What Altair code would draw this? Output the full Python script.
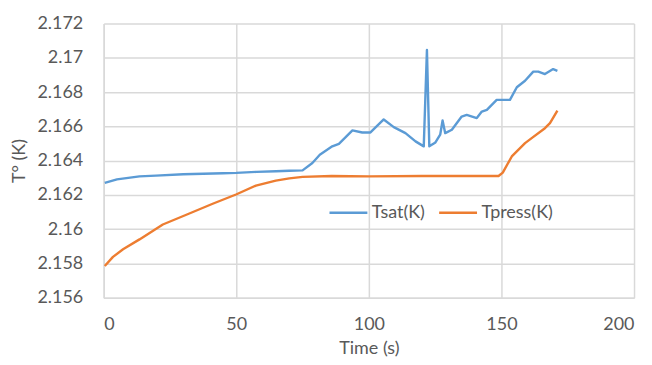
import altair as alt
import pandas as pd

# Tsat(K) series
t_sat = [0.4, 5, 13.5, 19.7, 30, 45, 50, 57.6, 65, 70, 75, 78.7, 81.5, 86.2, 88.7,
         93.8, 97.5, 100.6, 105.6, 109.4, 113.8, 117.6, 120.7, 121.9, 122.8, 125.1,
         126.9, 127.8, 128.8, 131.3, 135, 136.9, 140.7, 142.6, 144.5, 148.2, 153.2,
         155.8, 158.9, 162, 163.9, 166.4, 169.5, 171.1]
T_sat = [2.1627, 2.16290, 2.16308, 2.16312, 2.16320, 2.16326, 2.16328, 2.16334,
         2.16338, 2.16341, 2.16343, 2.16386, 2.16434, 2.16483, 2.16498, 2.16576,
         2.16564, 2.16564, 2.16640, 2.16595, 2.16560, 2.16512, 2.16483, 2.17045,
         2.16483, 2.16506, 2.16551, 2.16634, 2.16560, 2.16580, 2.16657, 2.16667,
         2.16648, 2.16686, 2.16696, 2.16754, 2.16754, 2.16828, 2.16866, 2.16919,
         2.16919, 2.16905, 2.16934, 2.16924]

# Tpress(K) series
t_press = [0.4, 3.5, 7.3, 13.5, 22.3, 32.3, 41.1, 49.9, 57.4, 64.9, 70, 75, 86, 100,
           120, 140, 148.9, 150.5, 153.9, 158.9, 161.4, 166.4, 168.3, 171.1]
T_press = [2.15785, 2.15838, 2.15882, 2.1594, 2.16027, 2.16091, 2.16148, 2.16202,
           2.16254, 2.16283, 2.16296, 2.16305, 2.16310, 2.16308, 2.16310, 2.16310,
           2.16310, 2.16330, 2.16424, 2.16502, 2.16531, 2.16589, 2.16619, 2.16692]

series_names = ["Tsat(K)", "Tpress(K)"]
series_colors = ["#5B9BD5", "#ED7D31"]
y_ticks = [2.156, 2.158, 2.16, 2.162, 2.164, 2.166, 2.168, 2.17, 2.172]
x_ticks = [0, 50, 100, 150, 200]

df = pd.concat([
    pd.DataFrame({"t": t_sat, "T": T_sat, "s": series_names[0], "o": range(len(t_sat))}),
    pd.DataFrame({"t": t_press, "T": T_press, "s": series_names[1], "o": range(len(t_press))}),
])

FONT = "Lato"
TXT = "#595959"
GRID = "#D9D9D9"
FS = 18

chart = alt.Chart(df).mark_line(strokeWidth=2.4, strokeJoin="round").encode(
    x=alt.X("t:Q", scale=alt.Scale(domain=[0, 200], nice=False),
            axis=alt.Axis(title="Time (s)", values=x_ticks, ticks=False,
                          labelPadding=18, labelFontSize=FS, titleFontSize=FS,
                          titleFontWeight="normal", titleY=51, titleBaseline="middle",
                          domainColor=GRID, domainWidth=1.5, gridColor=GRID, gridWidth=1.5)),
    y=alt.Y("T:Q", scale=alt.Scale(domain=[2.156, 2.172], nice=False, zero=False),
            axis=alt.Axis(title="T° (K)", values=y_ticks, format=".4~r", ticks=False,
                          labelPadding=21, labelFontSize=FS, titleFontSize=FS,
                          titleFontWeight="normal", titleX=-84, titleY=137.5,
                          titleAlign="center", titleBaseline="middle",
                          domainColor=GRID, domainWidth=1.5, gridColor=GRID, gridWidth=1.5)),
    color=alt.Color("s:N", scale=alt.Scale(domain=series_names, range=series_colors),
                    legend=alt.Legend(title=None, orient="none", direction="horizontal",
                                      legendX=225, legendY=169, symbolType="stroke",
                                      symbolSize=1444, symbolStrokeWidth=2.5,
                                      labelFontSize=FS, labelColor=TXT, labelFont=FONT,
                                      labelOffset=3, columnPadding=8)),
    order="o:Q",
).properties(
    width=532, height=275,
    autosize=alt.AutoSizeParams(type="none"),
    padding={"left": 96, "top": 15, "right": 10, "bottom": 63},
).configure_axis(
    labelFont=FONT, titleFont=FONT, labelColor=TXT, titleColor=TXT,
).configure_view(stroke=None)

chart.save("out.html", embed_options={"renderer": "svg", "actions": False})
